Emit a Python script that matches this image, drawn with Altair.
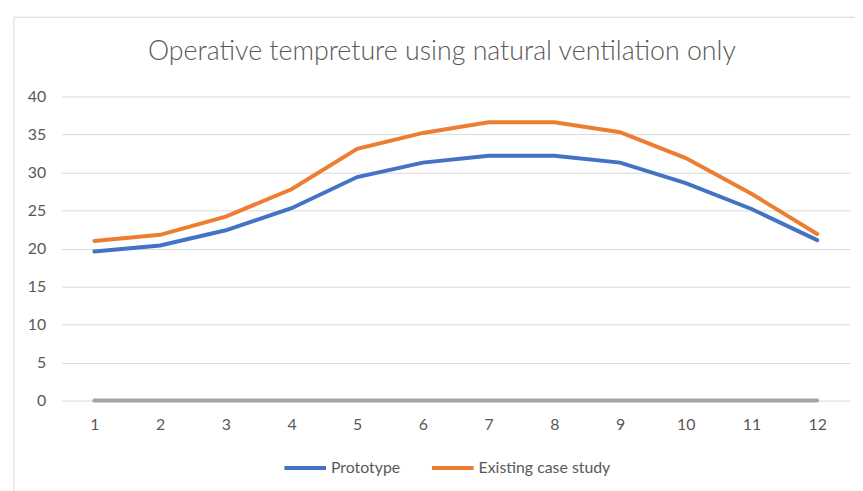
import altair as alt
import pandas as pd

months = list(range(1, 13))
prototype = [19.6, 20.4, 22.4, 25.3, 29.4, 31.3, 32.2, 32.2, 31.3, 28.6, 25.2, 21.1]
existing = [21.0, 21.8, 24.2, 27.8, 33.1, 35.2, 36.6, 36.6, 35.3, 31.9, 27.2, 21.9]
baseline = [0] * 12
series_names = ["Prototype", "Existing case study"]
series_colors = ["#4472C4", "#ED7D31"]
title_text = ["Operative tempreture using natural ventilation only"]

df = pd.DataFrame({
    "month": months * 2,
    "value": prototype + existing,
    "series": [series_names[0]] * 12 + [series_names[1]] * 12,
})
df0 = pd.DataFrame({"month": months, "value": baseline})

FONT = "Lato"
xenc = alt.X("month:O", scale=alt.Scale(type="point", padding=0.5),
             axis=alt.Axis(title=None, labelAngle=0, ticks=False, domain=False,
                           labelPadding=16, grid=False))
yenc = alt.Y("value:Q", scale=alt.Scale(domain=[0, 40]),
             axis=alt.Axis(title=None, values=[0, 5, 10, 15, 20, 25, 30, 35, 40],
                           ticks=False, domain=False, labelPadding=16,
                           gridColor="#D9D9D9", gridWidth=1))

border = alt.Chart(pd.DataFrame({"a": [0]})).mark_rect(
    fill=None, fillOpacity=0, stroke="#D9D9D9", strokeWidth=1
).encode(x=alt.value(-48), x2=alt.value(900), y=alt.value(-80), y2=alt.value(500))

title = alt.Chart(pd.DataFrame({"t": title_text})).mark_text(
    font=FONT, fontSize=27, fontWeight=300, color="#595959",
    align="center", baseline="middle"
).encode(text="t:N", x=alt.value(384), y=alt.value(-45))

zero_line = alt.Chart(df0).mark_line(color="#A5A5A5", strokeWidth=4, strokeCap="round").encode(
    x=xenc, y=yenc)

lines = alt.Chart(df).mark_line(strokeWidth=4, strokeCap="round").encode(
    x=xenc, y=yenc,
    color=alt.Color("series:N", sort=series_names,
                    scale=alt.Scale(domain=series_names, range=series_colors),
                    legend=alt.Legend(title=None, orient="none", direction="horizontal",
                                      legendX=223, legendY=352,
                                      symbolType="stroke", symbolStrokeWidth=4,
                                      symbolSize=1764, labelFontSize=16,
                                      labelColor="#595959", labelFont=FONT,
                                      columnPadding=24, labelOffset=3)),
)

chart = alt.layer(border, title, zero_line, lines).properties(
    width=796, height=307,
    padding={"left": 54, "top": 87, "right": 5, "bottom": 89},
    autosize=alt.AutoSizeParams(type="none"),
    background="white",
).configure_view(stroke=None).configure_axis(
    labelFont=FONT, labelFontSize=16, labelColor="#595959"
)

chart.save("out.html", embed_options={"renderer": "svg", "actions": False})
